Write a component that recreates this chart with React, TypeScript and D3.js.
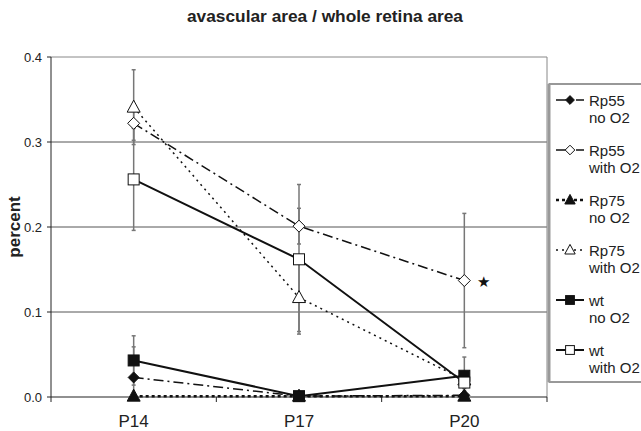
import React from 'react';
import * as d3 from 'd3';

// categories and tick labels
const days = ['P14', 'P17', 'P20'];
const yTicks = [0, 0.1, 0.2, 0.3, 0.4];

// series means
const rp55No = [0.023, 0.001, 0.002];
const rp55With = [0.322, 0.201, 0.137];
const rp75No = [0.001, 0.001, 0.001];
const rp75With = [0.341, 0.117, 0.02];
const wtNo = [0.043, 0.001, 0.025];
const wtWith = [0.256, 0.162, 0.017];

// error (± sd)
const rp55NoErr = [0.036, 0.003, 0.002];
const rp55WithErr = [0.02, 0.021, 0.079];
const rp75NoErr = [0.001, 0.001, 0.001];
const rp75WithErr = [0.044, 0.04, 0.01];
const wtNoErr = [0.029, 0.003, 0.022];
const wtWithErr = [0.06, 0.088, 0.01];

const seriesNames = ['Rp55', 'Rp55', 'Rp75', 'Rp75', 'wt', 'wt'];
const seriesSub = ['no O2', 'with O2', 'no O2', 'with O2', 'no O2', 'with O2'];

type Shape = 'diamond' | 'triangle' | 'square';

const series = [
  { values: rp55No, err: rp55NoErr, shape: 'diamond' as Shape, filled: true, dash: '10,4,2,4', width: 1.5 },
  { values: rp55With, err: rp55WithErr, shape: 'diamond' as Shape, filled: false, dash: '10,4,2,4', width: 1.5 },
  { values: rp75No, err: rp75NoErr, shape: 'triangle' as Shape, filled: true, dash: '3,3', width: 2.5 },
  { values: rp75With, err: rp75WithErr, shape: 'triangle' as Shape, filled: false, dash: '2,4', width: 1.5 },
  { values: wtNo, err: wtNoErr, shape: 'square' as Shape, filled: true, dash: '', width: 2 },
  { values: wtWith, err: wtWithErr, shape: 'square' as Shape, filled: false, dash: '', width: 2 },
];

const margin = { left: 51, right: 94, top: 57, bottom: 34 };
const W = 641;
const H = 431;

function Marker({ shape, filled, x, y, k = 1 }: { shape: Shape; filled: boolean; x: number; y: number; k?: number }) {
  const fill = filled ? '#111' : '#fff';
  if (shape === 'diamond') {
    const r = (filled ? 5.5 : 6) * k;
    return <path d={`M${x},${y - r}L${x + r},${y}L${x},${y + r}L${x - r},${y}Z`} fill={fill} stroke="#111" strokeWidth={1} />;
  }
  if (shape === 'triangle') {
    return <path d={`M${x},${y - 7 * k}L${x + 6.5 * k},${y + 5 * k}L${x - 6.5 * k},${y + 5 * k}Z`} fill={fill} stroke="#111" strokeWidth={1} />;
  }
  return <rect x={x - 5.5 * k} y={y - 5.5 * k} width={11 * k} height={11 * k} fill={fill} stroke="#111" strokeWidth={1} />;
}

export default function App() {
  const x = d3.scaleBand().domain(days).range([margin.left, W - margin.right]);
  const y = d3.scaleLinear().domain([0, 0.4]).range([H - margin.bottom, margin.top]);
  const cx = (d: string) => (x(d) ?? 0) + x.bandwidth() / 2;
  const line = d3
    .line<number>()
    .x((_, i) => cx(days[i]))
    .y(v => y(v));
  const x0 = margin.left;
  const x1 = W - margin.right;
  const font = 'Arial, "Liberation Sans", sans-serif';

  return (
    <svg width={W} height={H} style={{ position: 'absolute', left: 0, top: 0, background: '#fff' }} fontFamily={font}>
      <text x={325} y={22} textAnchor="middle" fontWeight="bold" fontSize={16} fill="#222" textLength={276} lengthAdjust="spacingAndGlyphs">
        avascular area / whole retina area
      </text>
      <text transform={`translate(20,${(y(0) + y(0.4)) / 2}) rotate(-90)`} textAnchor="middle" fontWeight="bold" fontSize={17} fill="#222">
        percent
      </text>

      {/* grid */}
      {yTicks.map(t => (
        <g key={t}>
          {t > 0 && <line x1={x0} x2={x1} y1={y(t)} y2={y(t)} stroke={t === 0.4 ? '#888' : '#555'} strokeWidth={1} />}
          <line x1={x0 - 4} x2={x0} y1={y(t)} y2={y(t)} stroke="#222" />
          <text x={x0 - 9} y={y(t) + 4.5} textAnchor="end" fontSize={13} fill="#222">
            {t.toFixed(1)}
          </text>
        </g>
      ))}
      <line x1={x1} x2={x1} y1={y(0.4)} y2={y(0)} stroke="#888" />
      <line x1={x0} x2={x0} y1={y(0.4)} y2={y(0)} stroke="#222" />
      <line x1={x0} x2={x1} y1={y(0)} y2={y(0)} stroke="#222" strokeWidth={1.2} />
      {[...days.map(d => x(d) ?? 0), x1].map((t, i) => (
        <line key={i} x1={t} x2={t} y1={y(0)} y2={y(0) + 5} stroke="#222" />
      ))}
      {days.map(d => (
        <text key={d} x={cx(d)} y={y(0) + 30} textAnchor="middle" fontSize={17} fill="#222">
          {d}
        </text>
      ))}

      {/* error bars */}
      {series.map((s, si) =>
        s.values.map((v, i) => {
          const px = cx(days[i]);
          const top = y(v + s.err[i]);
          const bot = y(Math.max(0, v - s.err[i]));
          return (
            <g key={`${si}-${i}`} stroke="#777" strokeWidth={1.5}>
              <line x1={px} x2={px} y1={top} y2={bot} />
              <line x1={px - 2} x2={px + 2} y1={top} y2={top} />
              <line x1={px - 2} x2={px + 2} y1={bot} y2={bot} />
            </g>
          );
        })
      )}

      {/* lines */}
      {series.map((s, si) => (
        <path key={si} d={line(s.values) ?? ''} fill="none" stroke="#111" strokeWidth={s.width} strokeDasharray={s.dash || undefined} />
      ))}

      {/* markers */}
      {series.map((s, si) =>
        s.values.map((v, i) => <Marker key={`${si}-${i}`} shape={s.shape} filled={s.filled} x={cx(days[i])} y={y(v)} />)
      )}

      <text x={cx('P20') + 19} y={y(rp55With[2]) + 6} fontSize={15} textAnchor="middle" fill="#111">
        ★
      </text>

      {/* legend */}
      <rect x={549} y={84} width={100} height={298} fill="#fff" stroke="#333" strokeWidth={1} />
      <line x1={549} x2={549} y1={84} y2={382} stroke="#999" strokeWidth={3} />
      {series.map((s, si) => {
        const ly = 100 + si * 50;
        return (
          <g key={si}>
            <line x1={556} x2={584} y1={ly} y2={ly} stroke="#111" strokeWidth={s.width} strokeDasharray={s.dash || undefined} />
            <Marker shape={s.shape} filled={s.filled} x={570} y={ly} k={0.8} />
            <text x={589} y={ly + 5.5} fontSize={15} fill="#222">
              {seriesNames[si]}
            </text>
            <text x={589} y={ly + 23} fontSize={15} fill="#222">
              {seriesSub[si]}
            </text>
          </g>
        );
      })}
    </svg>
  );
}
